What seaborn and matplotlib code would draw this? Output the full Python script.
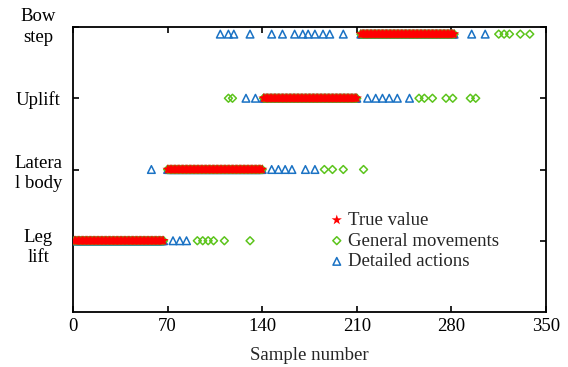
import matplotlib
matplotlib.use("Agg")
import matplotlib.pyplot as plt
from matplotlib.transforms import ScaledTranslation
import seaborn as sns
import pandas as pd

# ---------------- data ----------------
categories = ["Leg\nlift", "Latera\nl body", "Uplift", "Bow\nstep"]

# true-value sample numbers for each action
leg_true = [1, 2, 3, 4, 5, 6, 7, 8, 9, 10, 11, 12, 13, 14, 15, 16, 17, 18, 19, 20,
            21, 22, 23, 24, 25, 26, 27, 28, 29, 30, 31, 32, 33, 34, 35, 36, 37, 38, 39, 40,
            41, 42, 43, 44, 45, 46, 47, 48, 49, 50, 51, 52, 53, 54, 55, 56, 57, 58, 59, 60,
            61, 62, 63, 64, 65, 66, 67]
lat_true = [70, 71, 72, 73, 74, 75, 76, 77, 78, 79, 80, 81, 82, 83, 84, 85, 86, 87, 88, 89,
            90, 91, 92, 93, 94, 95, 96, 97, 98, 99, 100, 101, 102, 103, 104, 105, 106, 107, 108, 109,
            110, 111, 112, 113, 114, 115, 116, 117, 118, 119, 120, 121, 122, 123, 124, 125, 126, 127, 128, 129,
            130, 131, 132, 133, 134, 135, 136, 137, 138, 139, 140]
upl_true = [141, 142, 143, 144, 145, 146, 147, 148, 149, 150, 151, 152, 153, 154, 155, 156, 157, 158, 159, 160,
            161, 162, 163, 164, 165, 166, 167, 168, 169, 170, 171, 172, 173, 174, 175, 176, 177, 178, 179, 180,
            181, 182, 183, 184, 185, 186, 187, 188, 189, 190, 191, 192, 193, 194, 195, 196, 197, 198, 199, 200,
            201, 202, 203, 204, 205, 206, 207, 208, 209, 210]
bow_true = [213, 214, 215, 216, 217, 218, 219, 220, 221, 222, 223, 224, 225, 226, 227, 228, 229, 230, 231, 232,
            233, 234, 235, 236, 237, 238, 239, 240, 241, 242, 243, 244, 245, 246, 247, 248, 249, 250, 251, 252,
            253, 254, 255, 256, 257, 258, 259, 260, 261, 262, 263, 264, 265, 266, 267, 268, 269, 270, 271, 272,
            273, 274, 275, 276, 277, 278, 279, 280, 281, 282]

# predictions falling outside the true-value run of each row
leg_general_extra = [92, 96, 100, 104, 112, 131]
leg_detailed_extra = [74, 79, 84]
lat_general_extra = [186, 192, 200, 215]
lat_detailed_extra = [58, 147, 152, 157, 162, 172, 179]
upl_general_extra = [115, 118, 256, 260, 266, 276, 281, 294, 298]
upl_detailed_extra = [128, 135, 218, 224, 229, 234, 240, 249]
bow_general_extra = [315, 319, 323, 331, 338]
bow_detailed_extra = [109, 115, 119, 131, 147, 155, 164, 170, 174, 179, 185, 190, 200, 295, 305]

x_ticks = [0, 70, 140, 210, 280, 350]

# ---------------- layout ----------------
row_pos = {categories[0]: 1.0, categories[1]: 2.0, categories[2]: 3.0, categories[3]: 3.9}
tick_pos = [1, 2, 3, 4]

true_rows = [leg_true, lat_true, upl_true, bow_true]
gen_rows = [leg_true + leg_general_extra, lat_true + lat_general_extra,
            upl_true + upl_general_extra, bow_true + bow_general_extra]
det_rows = [leg_true + leg_detailed_extra, lat_true + lat_detailed_extra,
            upl_true + upl_detailed_extra, bow_true + bow_detailed_extra]


def frame(rows):
    xs, ys = [], []
    for cat, r in zip(categories, rows):
        xs += r
        ys += [row_pos[cat]] * len(r)
    return pd.DataFrame({"x": xs, "y": ys})


df_true = frame(true_rows)
df_gen = frame(gen_rows)
df_det = frame(det_rows)

sns.set_theme(style="ticks")
plt.rcParams["font.family"] = ["Liberation Serif", "DejaVu Serif"]
FS = 13.5
plt.rcParams["font.size"] = FS

fig = plt.figure(figsize=(5.68, 3.67), dpi=100)
ax = fig.add_axes([73 / 568, 1 - 312 / 367, (546 - 73) / 568, (312 - 27) / 367])

c_red = "#ff0000"
c_green = "#5cc41c"
c_blue = "#1a72c4"

sns.scatterplot(data=df_det, x="x", y="y", ax=ax, marker="^", s=30,
                facecolors="none", edgecolor=c_blue, linewidth=1.1,
                label="Detailed actions", zorder=3)
sns.scatterplot(data=df_gen, x="x", y="y", ax=ax, marker="D", s=16,
                facecolors="none", edgecolor=c_green, linewidth=1.1,
                label="General movements", zorder=4)
sns.scatterplot(data=df_true, x="x", y="y", ax=ax, marker="*", s=60,
                color=c_red, edgecolor="none", linewidth=0,
                label="True value", zorder=5)

ax.set_xlim(0, 350)
ax.set_ylim(0, 4)
ax.set_xticks(x_ticks)
ax.set_xticklabels([str(t) for t in x_ticks])
ax.set_yticks(tick_pos)
ax.set_yticklabels(categories, ha="center", multialignment="center", linespacing=1.3)
ax.set_xlabel("Sample number", fontsize=FS, labelpad=9)
ax.set_ylabel("")

ax.tick_params(axis="both", direction="in", length=4, width=1.2, color="black",
               top=True, right=True, labelsize=FS, labelcolor="black")
ax.tick_params(axis="y", pad=25)
ax.tick_params(axis="x", pad=4)
for sp in ax.spines.values():
    sp.set_visible(True)
    sp.set_color("black")
    sp.set_linewidth(1.3)

# nudge the multi-line labels to sit like the reference
ylabels = ax.get_yticklabels()
ylabels[3].set_transform(ylabels[3].get_transform() + ScaledTranslation(0, 3 / 72, fig.dpi_scale_trans))
ylabels[0].set_transform(ylabels[0].get_transform() + ScaledTranslation(0, -2 / 72, fig.dpi_scale_trans))

handles, labels = ax.get_legend_handles_labels()
order = [labels.index("True value"), labels.index("General movements"),
         labels.index("Detailed actions")]
ax.legend([handles[i] for i in order], [labels[i] for i in order],
          loc="upper left", bbox_to_anchor=(0.52, 0.378), frameon=False,
          fontsize=FS, handletextpad=0.05, handlelength=1.1, labelspacing=0.19,
          borderaxespad=0)

fig.savefig("out.png", dpi=100)
